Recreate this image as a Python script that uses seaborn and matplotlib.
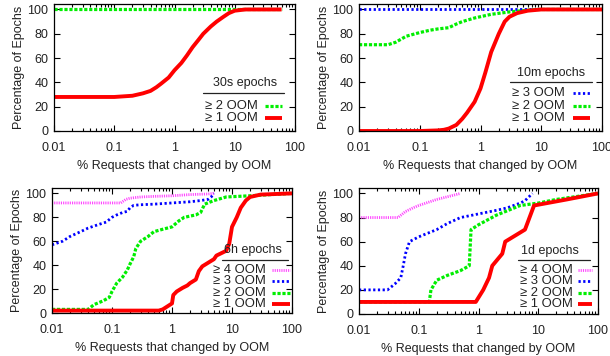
import matplotlib
matplotlib.use("Agg")
import matplotlib.pyplot as plt
import seaborn as sns
from matplotlib.ticker import LogLocator, NullFormatter, FixedLocator, FixedFormatter
from matplotlib.lines import Line2D

# ---------------- data ----------------
xticks = [0.01, 0.1, 1, 10, 100]
xtick_labels = ["0.01", "0.1", "1", "10", "100"]
yticks = [0, 20, 40, 60, 80, 100]

# 30s epochs
s30_ge2_x = [0.01, 0.1, 1, 10, 60]
s30_ge2_y = [100, 100, 100, 100, 100]
s30_ge1_x = [0.01, 0.05, 0.1, 0.2, 0.3, 0.4, 0.5, 0.6, 0.8, 1, 1.3, 1.6, 2, 2.5, 3, 4, 5, 6.5, 8, 10, 15, 60]
s30_ge1_y = [28, 28, 28, 29, 31, 33, 36, 39, 44, 50, 56, 62, 69, 75, 80, 86, 90, 94, 97, 99, 100, 100]

# 10m epochs
m10_ge3_x = [0.01, 0.1, 1, 10, 100]
m10_ge3_y = [100, 100, 100, 100, 100]
m10_ge2_x = [0.01, 0.02, 0.03, 0.04, 0.06, 0.1, 0.15, 0.2, 0.3, 0.4, 0.5, 0.8, 1.5, 3, 5, 8, 100]
m10_ge2_y = [71, 71, 71, 73, 78, 81, 83, 84, 85, 88, 90, 93, 96, 98, 99, 100, 100]
m10_ge1_x = [0.01, 0.1, 0.2, 0.25, 0.3, 0.4, 0.5, 0.6, 0.8, 1.0, 1.2, 1.5, 2.0, 2.5, 3.0, 4, 6, 10, 100]
m10_ge1_y = [0, 0, 0.5, 1, 2, 5, 10, 15, 24, 35, 48, 65, 80, 90, 94, 97, 99, 100, 100]

# 6h epochs
h6_ge4_x = [0.01, 0.14, 0.17, 0.2, 0.3, 0.5, 1, 2, 4, 5]
h6_ge4_y = [92, 92, 95, 96, 97, 97.5, 98, 99, 99.5, 100]
h6_ge3_x = [0.01, 0.015, 0.02, 0.03, 0.04, 0.06, 0.08, 0.1, 0.12, 0.15, 0.18, 0.2, 0.23, 0.3, 0.5, 1, 2, 3, 4, 4.5, 5]
h6_ge3_y = [57, 60, 64, 68, 71, 74, 76, 80, 82, 84, 85, 88, 90, 90.5, 91, 92, 93, 94, 95, 97, 100]
h6_ge2_x = [0.01, 0.04, 0.05, 0.07, 0.09, 0.1, 0.12, 0.15, 0.18, 0.2, 0.23, 0.25, 0.3, 0.4, 0.5, 0.7, 1, 1.3, 1.6, 2.5, 3, 3.5, 5, 8, 20, 100]
h6_ge2_y = [3, 3, 7, 10, 13, 18, 25, 30, 36, 41, 47, 54, 60, 64, 68, 70, 72, 77, 80, 82, 84, 91, 94, 97, 98, 100]
h6_ge1_x = [0.01, 0.6, 0.7, 1.0, 1.05, 1.2, 1.5, 1.8, 2, 2.5, 2.8, 3.2, 4, 5, 5.5, 8, 9, 10, 12, 14, 17, 20, 30, 100]
h6_ge1_y = [2, 2, 3, 8, 15, 18, 21, 23, 25, 28, 35, 39, 42, 45, 48, 52, 58, 72, 80, 88, 94, 97, 99, 100]

# 1d epochs
d1_ge4_x = [0.01, 0.045, 0.06, 0.08, 0.1, 0.2, 0.5]
d1_ge4_y = [80, 80, 85, 88, 90, 95, 100]
d1_ge3_x = [0.01, 0.03, 0.04, 0.05, 0.055, 0.06, 0.07, 0.1, 0.2, 0.3, 0.5, 1, 2, 3, 5, 6, 8]
d1_ge3_y = [20, 20, 25, 30, 40, 50, 60, 64, 70, 75, 80, 83, 86, 88, 92, 94, 100]
d1_ge2_x = [0.01, 0.15, 0.16, 0.2, 0.3, 0.5, 0.7, 0.75, 1, 2, 5, 10, 20, 100]
d1_ge2_y = [10, 10, 20, 28, 32, 36, 40, 70, 74, 82, 90, 92, 95, 100]
d1_ge1_x = [0.01, 0.9, 1.2, 1.5, 1.7, 2.5, 2.8, 6, 8.5, 30, 100]
d1_ge1_y = [10, 10, 20, 30, 40, 50, 60, 70, 90, 95, 100]

titles = ["30s epochs", "10m epochs", "6h epochs", "1d epochs"]
xlabel = "% Requests that changed by OOM"
ylabel = "Percentage of Epochs"

# ---------------- styles ----------------
STY = {
    "ge4": dict(color="#ff44ff", lw=2.0, dashes=(0.4, 0.4)),
    "ge3": dict(color="#0000ff", lw=2.0, dashes=(0.8, 0.9)),
    "ge2": dict(color="#00ee00", lw=2.3, dashes=(1.0, 0.55)),
    "ge1": dict(color="#ff0000", lw=2.8, dashes=None),
}
LABELS = {"ge4": "\u2265 4 OOM", "ge3": "\u2265 3 OOM", "ge2": "\u2265 2 OOM", "ge1": "\u2265 1 OOM"}

FS = 9
LFS = 9.4

sns.set_theme(style="ticks")
plt.rcParams["font.family"] = ["Liberation Sans", "DejaVu Sans"]
plt.rcParams["font.size"] = FS

W, H = 610, 356
fig = plt.figure(figsize=(W / 100, H / 100), dpi=100)


def px_axes(l, r, t, b):
    return fig.add_axes([l / W, 1 - b / H, (r - l) / W, (b - t) / H])


panels = [
    dict(box=(54, 295, 4, 131),
         series=[("ge2", s30_ge2_x, s30_ge2_y), ("ge1", s30_ge1_x, s30_ge1_y)],
         leg=dict(tx=245, ty=83, ul=(203, 284, 93), ys=[106, 118], txl=205, sx=(265, 282))),
    dict(box=(359, 602, 4, 131),
         series=[("ge3", m10_ge3_x, m10_ge3_y), ("ge2", m10_ge2_x, m10_ge2_y), ("ge1", m10_ge1_x, m10_ge1_y)],
         leg=dict(tx=551, ty=73, ul=(510, 592, 82), ys=[93, 106, 118], txl=512, sx=(573, 590))),
    dict(box=(52, 292, 188, 313),
         series=[("ge4", h6_ge4_x, h6_ge4_y), ("ge3", h6_ge3_x, h6_ge3_y), ("ge2", h6_ge2_x, h6_ge2_y), ("ge1", h6_ge1_x, h6_ge1_y)],
         leg=dict(tx=253, ty=250, ul=(222, 288, 260), ys=[270, 281, 293, 304], txl=213, sx=(272, 290))),
    dict(box=(359, 598, 188, 314),
         series=[("ge4", d1_ge4_x, d1_ge4_y), ("ge3", d1_ge3_x, d1_ge3_y), ("ge2", d1_ge2_x, d1_ge2_y), ("ge1", d1_ge1_x, d1_ge1_y)],
         leg=dict(tx=550, ty=251, ul=(518, 590, 260), ys=[270, 281, 293, 304], txl=520, sx=(578, 592))),
]


def style_line(line, key):
    s = STY[key]
    line.set_color(s["color"])
    line.set_linewidth(s["lw"])
    if s["dashes"] is not None:
        line.set_dashes(list(s["dashes"]))
        line.set_dash_capstyle("butt")
    line.set_solid_capstyle("butt")


for i, p in enumerate(panels):
    ax = px_axes(*p["box"])
    for key, xs, ys in p["series"]:
        n_before = len(ax.lines)
        sns.lineplot(x=xs, y=ys, ax=ax, sort=False, estimator=None)
        style_line(ax.lines[n_before], key)
    ax.set_xscale("log")
    ax.set_xlim(0.01, 100)
    ax.set_ylim(0, 104.5)
    ax.xaxis.set_major_locator(FixedLocator(xticks))
    ax.xaxis.set_major_formatter(FixedFormatter(xtick_labels))
    ax.xaxis.set_minor_locator(LogLocator(base=10, subs=range(2, 10)))
    ax.xaxis.set_minor_formatter(NullFormatter())
    ax.set_yticks(yticks)
    ax.tick_params(which="both", direction="in", top=True, right=True, colors="black",
                   labelsize=FS, labelcolor="#222222")
    ax.tick_params(axis="x", which="major", pad=8)
    ax.tick_params(axis="y", which="major", pad=4)
    ax.tick_params(which="major", length=4, width=0.8)
    ax.tick_params(which="minor", length=2, width=0.8)
    for sp in ax.spines.values():
        sp.set_color("black")
        sp.set_linewidth(0.9)
    ax.set_xlabel(xlabel, fontsize=FS, labelpad=4, color="#222222")
    ax.set_ylabel(ylabel, fontsize=FS, labelpad=2, color="#222222")

    # gnuplot-style key
    L = p["leg"]
    fig.text(L["tx"] / W, 1 - L["ty"] / H, titles[i], ha="center", va="center", fontsize=FS, color="#222222")
    fig.add_artist(Line2D([L["ul"][0] / W, L["ul"][1] / W], [1 - L["ul"][2] / H] * 2,
                          color="#222222", lw=0.9, transform=fig.transFigure))
    for (key, _, _), yy in zip(p["series"], L["ys"]):
        fig.text(L["txl"] / W, 1 - yy / H, LABELS[key], ha="left", va="center", fontsize=LFS, color="#222222")
        ln = Line2D([L["sx"][0] / W, L["sx"][1] / W], [1 - yy / H] * 2, transform=fig.transFigure)
        style_line(ln, key)
        fig.add_artist(ln)

fig.savefig("out.png", dpi=100)
